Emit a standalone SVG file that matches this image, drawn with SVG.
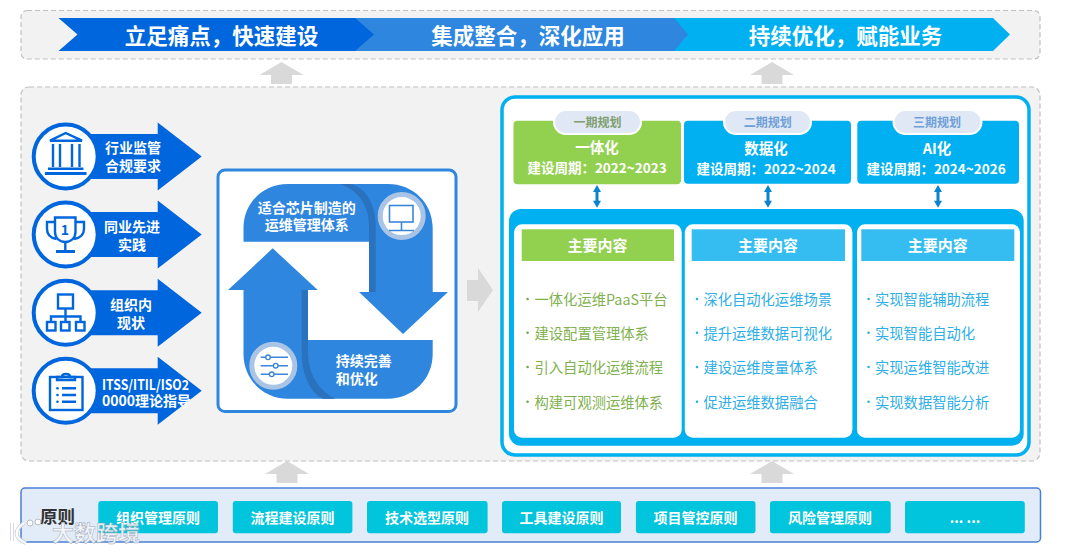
<svg xmlns="http://www.w3.org/2000/svg" width="1080" height="552" viewBox="0 0 1080 552">
<style>
text{font-family:"Noto Sans CJK SC","Noto Sans",sans-serif;dominant-baseline:central;text-anchor:middle}
.panel{fill:#f2f2f2;stroke:#bfbfbf;stroke-width:1.2;stroke-dasharray:5 3}
.gray{fill:#d9d9d9}
.head{font-size:21.500px;font-weight:700;fill:#fff}
.w14{font-size:14px;font-weight:700;fill:#fff}
.l{text-anchor:start}
.ar{fill:#0066dd}
.ring{fill:#fff;stroke:#0066dd;stroke-width:4}
.ic{fill:none;stroke:#0066dd;stroke-width:2.4}
.icf{fill:#0066dd}
.cy{fill:#2e86de}
.cs{fill:#2a72bd}
.halo{fill:#fff;stroke:#a9c4e4;stroke-width:5}
.ic2{fill:none;stroke:#3a86d8;stroke-width:1.6}
.tab{stroke:#fff;stroke-width:2}
.tabt{font-size:12px;font-weight:700}
.t15{font-size:14.500px;font-weight:700;fill:#fff}
.t13{font-size:13.500px;font-weight:700;fill:#fff}
.db{fill:#0a84d0}
.card{fill:#fff}
.hd{font-size:15px;font-weight:700;fill:#fff}
.gi{font-size:14.300px;fill:#7fb24f}
.bi{font-size:14.300px;fill:#2eaee6}
.gb{fill:#6fa845}
.bb{fill:#2eaee6}
.pr{fill:#00c5dc}
</style>
<defs>
<path id="upArrow" class="gray" d="M0 0L22 13H10.500V22H-10.500V13H-22Z"/>
<path id="leftArrow" class="ar" d="M0 -22.500H92V-34L136 0L92 34V22.500H0Z"/>
<path id="dbl" class="db" d="M0 0L4 7H1.500V15.700H4L0 22.700L-4 15.700H-1.500V7H-4Z"/>
</defs>

<g id="top-band">
<rect class="panel" x="21" y="10.500" width="1019" height="48.500" rx="6"/>
<path fill="#00b0f0" d="M660 18H993L1010 34.500L993 51H660Z"/>
<path fill="#2e86de" d="M340 18H674L688 34.500L674 51H340Z"/>
<path fill="#0066dd" d="M58.500 18H355L374 34.500L355 51H58.500L77.500 34.500Z"/>
<text class="head" x="221.500" y="34">立足痛点，快速建设</text>
<text class="head" x="528" y="34">集成整合，深化应用</text>
<text class="head" x="845.500" y="34">持续优化，赋能业务</text>
</g>

<rect id="main-panel" class="panel" x="21" y="87" width="1019" height="374" rx="8"/>

<g id="driver-1">
<use href="#leftArrow" x="65.700" y="156.500"/>
<circle class="ring" cx="65.700" cy="156.500" r="32"/>
<path class="ic" d="M50 140.700L65.700 133L82 140.700Z"/>
<path class="ic" d="M53 144V167M60 144V167M72 144V167M79.500 144V167"/>
<path class="icf" d="M48 167.500H83.500V170H48ZM45 172H86.500V175H45Z"/>
<text class="w14" x="133" y="147">行业监管</text>
<text class="w14" x="133" y="165">合规要求</text>
</g>
<g id="driver-2">
<use href="#leftArrow" x="65.700" y="234.500"/>
<circle class="ring" cx="65.700" cy="234.500" r="32"/>
<path class="ic" d="M55 217.500H75.500V232C75.500 238 71 242 65.300 242C59.500 242 55 238 55 232Z"/>
<path class="ic" d="M55 222H47V229C47 235 51 238 56.500 239M75.500 222H84V229C84 235 80 238 74 239"/>
<path class="ic" d="M65.300 242V251"/>
<path class="icf" d="M56 250H75V253H56Z"/>
<text x="65" y="229" font-size="14" font-weight="700" fill="#0066dd">1</text>
<text class="w14" x="132" y="226">同业先进</text>
<text class="w14" x="132" y="244">实践</text>
</g>
<g id="driver-3">
<use href="#leftArrow" x="65.700" y="312.700"/>
<circle class="ring" cx="65.700" cy="312.700" r="32"/>
<rect class="ic" x="58" y="294.500" width="15" height="14"/>
<path class="ic" d="M65.500 308.500V316.500M51 321.500V316.500H80.500V321.500M65.500 316.500V321.500"/>
<rect class="ic" x="47" y="322" width="8.500" height="8.500"/>
<rect class="ic" x="61" y="322" width="8.500" height="8.500"/>
<rect class="ic" x="76" y="322" width="8.500" height="8.500"/>
<text class="w14" x="131" y="304">组织内</text>
<text class="w14" x="131" y="322">现状</text>
</g>
<g id="driver-4">
<use href="#leftArrow" x="65.700" y="390.700"/>
<circle class="ring" cx="65.700" cy="390.700" r="32"/>
<rect class="ic" x="50" y="377" width="32.500" height="33"/>
<path class="ic" d="M57 380H75V377H70C70 373 62 373 62 377H57Z"/>
<path class="ic" stroke-width="1.800" d="M62 388.300H76M62 395H76M62 401.700H76"/>
<circle class="icf" cx="57.500" cy="388.300" r="1.300"/>
<circle class="icf" cx="57.500" cy="395" r="1.300"/>
<circle class="icf" cx="57.500" cy="401.700" r="1.300"/>
<text class="w14 l" x="102" y="383.500" textLength="87" lengthAdjust="spacingAndGlyphs">ITSS/ITIL/ISO2</text>
<text class="w14 l" x="102" y="399.500">0000理论指导</text>
</g>

<g id="cycle">
<rect x="218" y="170" width="238" height="241.500" rx="7" fill="#fff" stroke="#2e86de" stroke-width="3"/>
<path class="cy" d="M243.500 241.700V228C243.500 203 263 184 288 184H388C413 184 432.700 203 432.700 228V292H448L403 334L359 292H369V241.700Z"/>
<path class="cs" d="M340 184H350C366 187 375.700 205 375.700 226V292H369V226C369 205 358 190 340 184Z"/>
<path class="cy" d="M272.700 248.300L317.700 290H308V340H432.700V354C432.700 379 413 398.700 388 398.700H288C263 398.700 243.500 379 243.500 354V290H228Z"/>
<path class="cs" d="M301.700 290H308V352C308 373 318 390 335 398.700H323C309 392 301.700 373 301.700 352Z"/>
<text class="w14" x="306.700" y="206.700">适合芯片制造的</text>
<text class="w14" x="306.700" y="224">运维管理体系</text>
<text class="w14 l" x="335.700" y="360">持续完善</text>
<text class="w14 l" x="335.700" y="378">和优化</text>
<g id="icon-monitor">
<circle class="halo" cx="401.700" cy="216" r="21.500"/>
<rect class="ic2" x="389.500" y="205.500" width="23.500" height="16.500"/>
<path class="ic2" d="M401.500 222V230.500M389 230.500H414"/>
</g>
<g id="icon-sliders">
<circle class="halo" cx="273.300" cy="365.700" r="21.500"/>
<path class="ic2" d="M260.700 357.300H288M260.700 365.700H288M260.700 374.300H288"/>
<circle cx="268" cy="357.300" r="2.300" fill="#fff" stroke="#3a86d8" stroke-width="1.400"/>
<circle cx="275.700" cy="365.700" r="2.300" fill="#fff" stroke="#3a86d8" stroke-width="1.400"/>
<circle cx="271.700" cy="374.300" r="2.300" fill="#fff" stroke="#3a86d8" stroke-width="1.400"/>
</g>
</g>

<rect id="plan-frame" x="502" y="97" width="527" height="358" rx="13" fill="#fff" stroke="#00b0f0" stroke-width="3.500"/>

<g id="phase-1">
<rect x="513.500" y="120.700" width="167.500" height="63.500" rx="4" fill="#92d050"/>
<rect class="tab" x="554" y="110" width="87" height="24" rx="12" fill="#dfe8f4"/>
<text class="tabt" x="597.500" y="121" fill="#7f9f70">一期规划</text>
<text class="t15" x="597" y="146">一体化</text>
<text class="t13" x="597" y="166.700">建设周期：2022~2023</text>
</g>
<g id="phase-2">
<rect x="684" y="120.700" width="167" height="63" rx="4" fill="#00b0f0"/>
<rect class="tab" x="724" y="110" width="87" height="24" rx="12" fill="#dfe8f4"/>
<text class="tabt" x="767.700" y="121" fill="#6f9fd8">二期规划</text>
<text class="t15" x="766" y="147">数据化</text>
<text class="t13" x="766" y="168">建设周期：2022~2024</text>
</g>
<g id="phase-3">
<rect x="857.300" y="120.700" width="161.700" height="63" rx="4" fill="#00b0f0"/>
<rect class="tab" x="893.500" y="110" width="88" height="24" rx="12" fill="#dfe8f4"/>
<text class="tabt" x="937" y="121" fill="#6f9fd8">三期规划</text>
<text class="t15" x="937" y="147">AI化</text>
<text class="t13" x="936" y="168">建设周期：2024~2026</text>
</g>

<rect id="content-panel" x="509" y="209" width="514.700" height="236.700" rx="12" fill="#00b0f0"/>

<g id="content-1">
<rect class="card" x="514" y="224.300" width="167.700" height="213.400" rx="8"/>
<rect x="521.700" y="229.300" width="152.300" height="31.700" fill="#92d050"/>
<text class="hd" x="597.500" y="244">主要内容</text>
<circle class="gb" cx="527.600" cy="299" r="1.300"/><text class="gi l" x="534.500" y="298">一体化运维PaaS平台</text>
<circle class="gb" cx="527.600" cy="332.700" r="1.300"/><text class="gi l" x="534.500" y="332">建设配置管理体系</text>
<circle class="gb" cx="527.600" cy="367" r="1.300"/><text class="gi l" x="534.500" y="366">引入自动化运维流程</text>
<circle class="gb" cx="527.600" cy="401.700" r="1.300"/><text class="gi l" x="534.500" y="401">构建可观测运维体系</text>
</g>
<g id="content-2">
<rect class="card" x="684.800" y="224.300" width="167.600" height="213.400" rx="8"/>
<rect x="691.700" y="229.300" width="153.300" height="31.700" fill="#35bdf2"/>
<text class="hd" x="768" y="244">主要内容</text>
<circle class="bb" cx="697" cy="299" r="1.300"/><text class="bi l" x="703.400" y="298">深化自动化运维场景</text>
<circle class="bb" cx="697" cy="332.700" r="1.300"/><text class="bi l" x="703.400" y="332">提升运维数据可视化</text>
<circle class="bb" cx="697" cy="367" r="1.300"/><text class="bi l" x="703.400" y="366">建设运维度量体系</text>
<circle class="bb" cx="697" cy="401.700" r="1.300"/><text class="bi l" x="703.400" y="401">促进运维数据融合</text>
</g>
<g id="content-3">
<rect class="card" x="857" y="224.300" width="163" height="213.400" rx="8"/>
<rect x="861.300" y="229.300" width="153" height="31.700" fill="#35bdf2"/>
<text class="hd" x="937.700" y="244">主要内容</text>
<circle class="bb" cx="868.600" cy="299" r="1.300"/><text class="bi l" x="875" y="298">实现智能辅助流程</text>
<circle class="bb" cx="868.600" cy="332.700" r="1.300"/><text class="bi l" x="875" y="332">实现智能自动化</text>
<circle class="bb" cx="868.600" cy="367" r="1.300"/><text class="bi l" x="875" y="366">实现运维智能改进</text>
<circle class="bb" cx="868.600" cy="401.700" r="1.300"/><text class="bi l" x="875" y="401">实现数据智能分析</text>
</g>

<g id="principles">
<rect x="21" y="488" width="1019.500" height="54" rx="4" fill="#e2ecf9" stroke="#4a7fd6" stroke-width="1.500"/>
<text x="57.500" y="515" font-size="17.500" font-weight="700" fill="#333">原则</text>
<rect class="pr" x="98.300" y="501" width="119.700" height="32.300" rx="3"/><text class="w14" x="158" y="516.500">组织管理原则</text>
<rect class="pr" x="232.800" y="501" width="119.600" height="32.300" rx="3"/><text class="w14" x="292.500" y="516.500">流程建设原则</text>
<rect class="pr" x="367" y="501" width="120.600" height="32.300" rx="3"/><text class="w14" x="427" y="516.500">技术选型原则</text>
<rect class="pr" x="502" y="501" width="119" height="32.300" rx="3"/><text class="w14" x="561.500" y="516.500">工具建设原则</text>
<rect class="pr" x="635.900" y="501" width="119.600" height="32.300" rx="3"/><text class="w14" x="695.500" y="516.500">项目管控原则</text>
<rect class="pr" x="770" y="501" width="120.700" height="32.300" rx="3"/><text class="w14" x="830" y="516.500">风险管理原则</text>
<rect class="pr" x="905" y="501" width="119.800" height="32.300" rx="3"/><text class="w14" x="965" y="516.500">... ...</text>
</g>

<g id="connectors">
<use href="#upArrow" x="281.500" y="62"/>
<use href="#upArrow" x="772" y="62"/>
<use href="#upArrow" x="287" y="461"/>
<use href="#upArrow" x="772" y="461"/>
<path class="gray" d="M467 280H478V268L493 290L478 312V301H467Z"/>
<use href="#dbl" x="597" y="185"/>
<use href="#dbl" x="768" y="185"/>
<use href="#dbl" x="938" y="185"/>
</g>

<g id="watermark" opacity="0.9">
<path d="M12 523V541M24 523C14 530 14 538 26 543" fill="none" stroke="#c4cad2" stroke-width="4"/>
<path d="M12 523V541M24 523C14 530 14 538 26 543" fill="none" stroke="#fff" stroke-width="2.500"/>
<circle cx="30" cy="523" r="3" fill="#fff" stroke="#b4bac2" stroke-width="1"/>
<circle cx="38" cy="522" r="3" fill="#fff" stroke="#b4bac2" stroke-width="1"/>
<text x="96" y="531" font-size="22" font-weight="700" fill="#f4f6f9" stroke="#9aa4b2" stroke-width="0.500">大数跨境</text>
</g>
</svg>
